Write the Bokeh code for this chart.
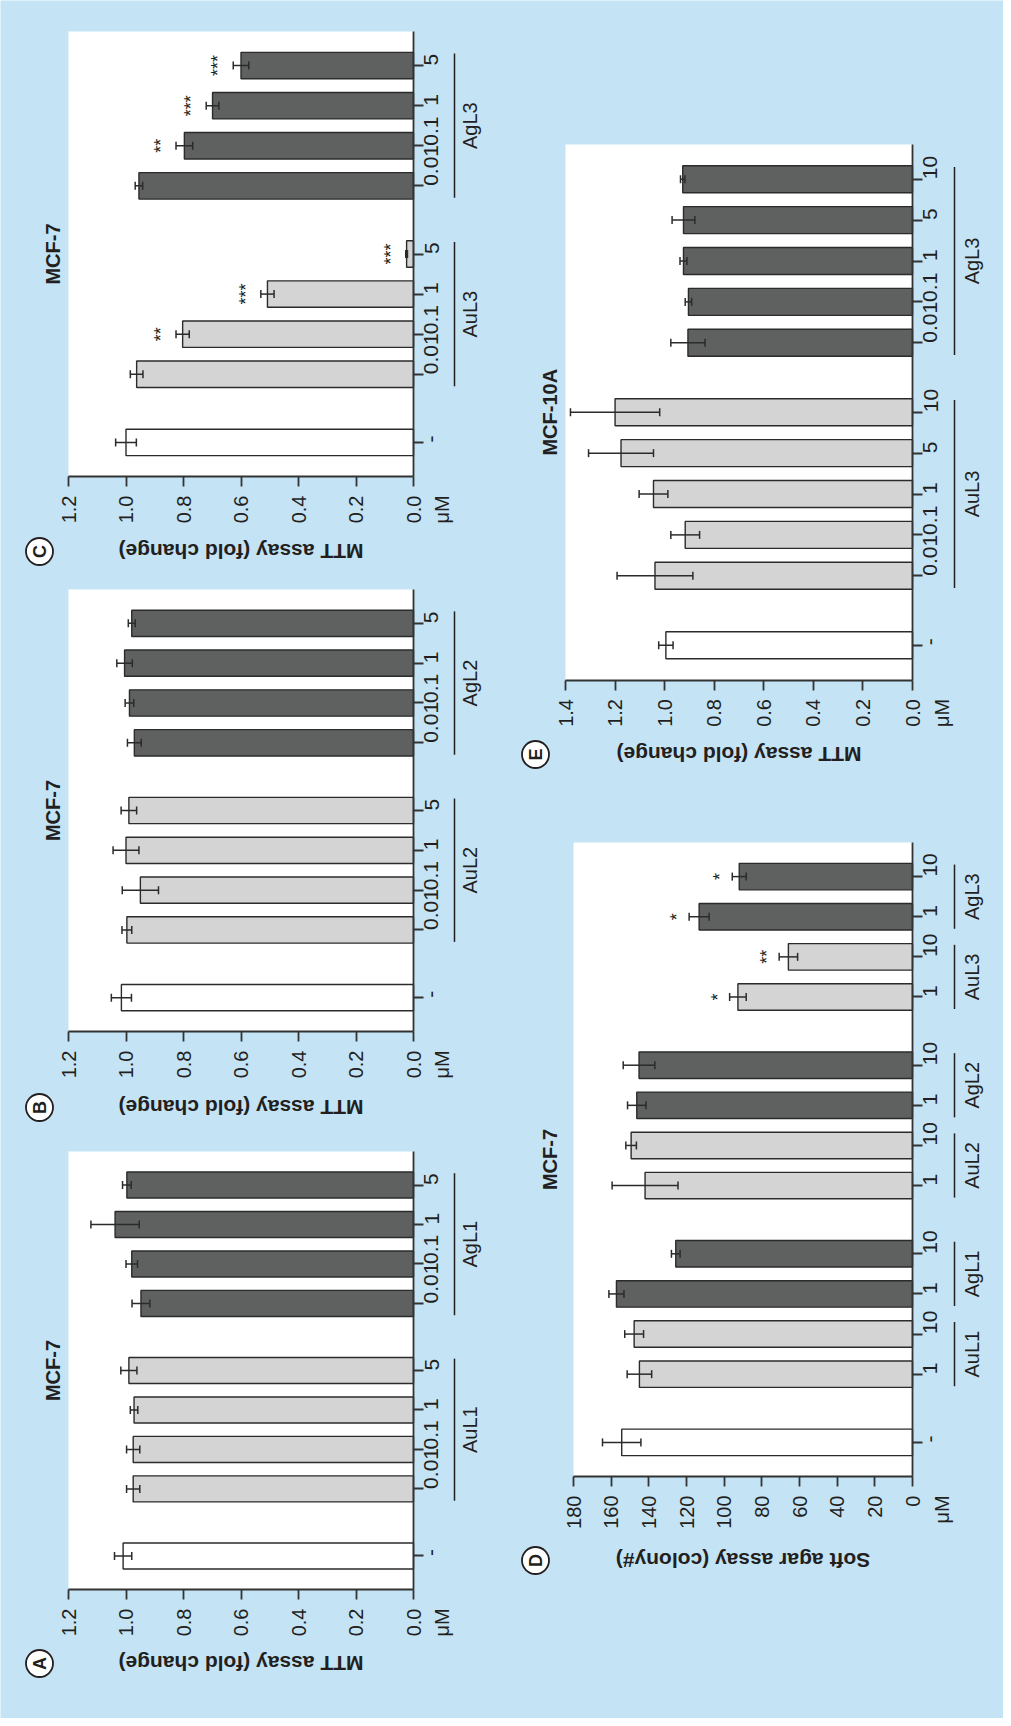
import math
from bokeh.plotting import figure
from bokeh.models import Range1d, LinearAxis, FixedTicker, PrintfTickFormatter, ColumnDataSource
from bokeh.core.properties import value
from bokeh.embed import file_html
from bokeh.resources import INLINE

# ----------------------------- data -----------------------------
MTT_TITLE = "MTT assay (fold change)"
SOFT_TITLE = "Soft agar assay (colony#)"
UNIT = "μM"
CONTROL = "-"

MTT_TICKS = [0.0, 0.2, 0.4, 0.6, 0.8, 1.0, 1.2]
E_TICKS = [0.0, 0.2, 0.4, 0.6, 0.8, 1.0, 1.2, 1.4]
D_TICKS = [0, 20, 40, 60, 80, 100, 120, 140, 160, 180]

MTT_DOSES = ["0.01", "0.1", "1", "5"]
E_DOSES = ["0.01", "0.1", "1", "5", "10"]
D_DOSES = ["1", "10"]

A_groups = [["AuL1"], ["AgL1"]]
A_mean = [1.01, 0.975, 0.975, 0.972, 0.99, 0.948, 0.98, 1.038, 0.997]
A_err = [0.03, 0.023, 0.023, 0.013, 0.028, 0.031, 0.02, 0.084, 0.015]
A_sig = ["", "", "", "", "", "", "", "", ""]

B_groups = [["AuL2"], ["AgL2"]]
B_mean = [1.016, 0.997, 0.95, 1.0, 0.99, 0.971, 0.988, 1.005, 0.98]
B_err = [0.035, 0.017, 0.063, 0.045, 0.027, 0.024, 0.015, 0.027, 0.012]
B_sig = ["", "", "", "", "", "", "", "", ""]

C_groups = [["AuL3"], ["AgL3"]]
C_mean = [1.0, 0.963, 0.803, 0.508, 0.024, 0.955, 0.797, 0.699, 0.60]
C_err = [0.036, 0.022, 0.023, 0.023, 0.003, 0.013, 0.029, 0.022, 0.027]
C_sig = ["", "", "**", "***", "***", "", "**", "***", "***"]

D_groups = [["AuL1", "AgL1"], ["AuL2", "AgL2"], ["AuL3", "AgL3"]]
D_mean = [154.4, 145.0, 147.8, 157.2, 125.7, 142.0, 149.4, 146.4, 145.2, 92.7, 65.9, 113.3, 92.0]
D_err = [10.2, 6.5, 5.0, 4.0, 2.3, 17.5, 2.8, 4.9, 8.4, 4.4, 4.9, 5.3, 3.7]
D_sig = ["", "", "", "", "", "", "", "", "", "*", "**", "*", "*"]

E_groups = [["AuL3"], ["AgL3"]]
E_mean = [0.995, 1.039, 0.917, 1.045, 1.176, 1.20, 0.906, 0.904, 0.924, 0.924, 0.927]
E_err = [0.029, 0.153, 0.058, 0.058, 0.131, 0.18, 0.069, 0.013, 0.014, 0.046, 0.009]
E_sig = ["", "", "", "", "", "", "", "", "", "", ""]

# ----------------------------- style / layout -----------------------------
W, H = 1003, 1718
MARGIN = 8
BLUE = "#c4e4f6"
INK = "#231f20"
AXIS = "#333333"
FILL_CTRL = "#ffffff"
FILL_AU = "#d4d4d4"
FILL_AG = "#5f6060"
FONT = "Liberation Sans"
GAP = 1.7
PAD = 0.85
BAR_H = 0.66
CAP_PX = 4

COLS = [
    dict(title_x=60, letter_x=47, bracket_x=462, group_x=477, unit_x=449),
    dict(title_x=557.5, letter_x=543, bracket_x=962, group_x=979, unit_x=949),
]

PANELS = [
    dict(letter="A", cell="MCF-7", groups=A_groups, doses=MTT_DOSES, mean=A_mean, err=A_err,
         sig=A_sig, ticks=MTT_TICKS, fmt="%.1f", ytitle=MTT_TITLE,
         box=(76, 421, 1159, 1597), col=0, title_gap=74, star_px=15),
    dict(letter="B", cell="MCF-7", groups=B_groups, doses=MTT_DOSES, mean=B_mean, err=B_err,
         sig=B_sig, ticks=MTT_TICKS, fmt="%.1f", ytitle=MTT_TITLE,
         box=(76, 421, 597, 1039), col=0, title_gap=76, star_px=15),
    dict(letter="C", cell="MCF-7", groups=C_groups, doses=MTT_DOSES, mean=C_mean, err=C_err,
         sig=C_sig, ticks=MTT_TICKS, fmt="%.1f", ytitle=MTT_TITLE,
         box=(76, 421, 39, 484), col=0, title_gap=75, star_px=15),
    dict(letter="D", cell="MCF-7", groups=D_groups, doses=D_DOSES, mean=D_mean, err=D_err,
         sig=D_sig, ticks=D_TICKS, fmt="%d", ytitle=SOFT_TITLE,
         box=(581, 920, 850, 1484), col=1, title_gap=84, star_px=12),
    dict(letter="E", cell="MCF-10A", groups=E_groups, doses=E_DOSES, mean=E_mean, err=E_err,
         sig=E_sig, ticks=E_TICKS, fmt="%.1f", ytitle=MTT_TITLE,
         box=(573, 920, 152, 687.5), col=1, title_gap=74.5, star_px=15),
]

p = figure(width=W, height=H, x_range=Range1d(0, 1), y_range=Range1d(0, 1),
           toolbar_location=None, output_backend="svg",
           x_axis_location=None, y_axis_location=None, min_border=0,
           background_fill_color=BLUE, border_fill_color=BLUE, outline_line_color=None)
p.grid.visible = False
if p.title is not None:
    p.title.visible = False

extra_x, extra_y = {}, {}


def txt(xn, yn, xs, ys, texts, size, angle=math.pi / 2, bold=False):
    p.text(x=xs, y=ys, text=texts, angle=angle, text_align="center", text_baseline="middle",
           text_font=value(FONT), text_font_size=value(size),
           text_font_style="bold" if bold else "normal", text_color=INK,
           x_range_name=xn, y_range_name=yn)


for idx, pn in enumerate(PANELS):
    xn, yn = f"x{idx}", f"y{idx}"
    col = COLS[pn["col"]]
    # category positions from group structure
    pos = [0.0]
    grp = []
    cur = 0.0
    for cluster in pn["groups"]:
        cur += GAP
        for gi, g in enumerate(cluster):
            if gi:
                cur += 1.0
            first = cur
            for di in range(len(pn["doses"])):
                if di:
                    cur += 1.0
                pos.append(round(cur, 4))
            grp.append((g, round(first, 4), round(cur, 4)))
    labels = [CONTROL] + [d for cl in pn["groups"] for g in cl for d in pn["doses"]]
    fills = [FILL_CTRL] + [(FILL_AU if g.startswith("Au") else FILL_AG)
                           for cl in pn["groups"] for g in cl for d in pn["doses"]]

    left, right, top, bottom = pn["box"]
    L, R, T, B = left - MARGIN, right - MARGIN, top - MARGIN, bottom - MARGIN
    vmax = pn["ticks"][-1]
    ux = vmax / (R - L)
    lo, hi = -PAD, pos[-1] + PAD
    uy = (hi - lo) / (B - T)
    extra_x[xn] = Range1d(start=vmax + L * ux, end=-(W - R) * ux)
    extra_y[yn] = Range1d(start=lo - (H - B) * uy, end=hi + T * uy)

    def X(page_x):
        return vmax - (page_x - left) * ux

    def Y(page_y):
        return lo + (bottom - page_y) * uy

    # white plotting area
    p.quad(left=[0], right=[vmax], bottom=[lo], top=[hi], fill_color="white",
           line_color=None, x_range_name=xn, y_range_name=yn)

    mean, err = pn["mean"], pn["err"]
    src = ColumnDataSource(dict(
        pos=pos, mean=mean, fill=fills,
        elo=[m - e for m, e in zip(mean, err)],
        ehi=[m + e for m, e in zip(mean, err)],
        c0=[y - CAP_PX * uy for y in pos],
        c1=[y + CAP_PX * uy for y in pos],
    ))
    p.hbar(y="pos", left=0, right="mean", height=BAR_H, fill_color="fill",
           line_color="#2b2b2b", line_width=1.4, source=src,
           x_range_name=xn, y_range_name=yn)
    for a, b, c, d in (("elo", "pos", "ehi", "pos"), ("elo", "c0", "elo", "c1"), ("ehi", "c0", "ehi", "c1")):
        p.segment(x0=a, y0=b, x1=c, y1=d, line_color="#2b2b2b", line_width=1.5,
                  source=src, x_range_name=xn, y_range_name=yn)

    # significance stars
    sx, sy, st = [], [], []
    for y, m, e, s in zip(pos, mean, err, pn["sig"]):
        if s:
            sx.append(m + e + pn["star_px"] * ux)
            sy.append(y)
            st.append(s)
    if st:
        txt(xn, yn, sx, sy, st, "18px")

    # value axis
    xa = LinearAxis(x_range_name=xn, y_range_name=yn, fixed_location=lo, bounds=(0, vmax),
                    ticker=FixedTicker(ticks=pn["ticks"]),
                    formatter=PrintfTickFormatter(format=pn["fmt"]),
                    major_label_orientation=math.pi / 2, major_tick_in=0, major_tick_out=10,
                    minor_tick_line_color=None, axis_line_color=AXIS, axis_line_width=1.8,
                    major_tick_line_color=AXIS, major_tick_line_width=1.8,
                    major_label_standoff=9, major_label_text_font=FONT,
                    major_label_text_font_size="20px", major_label_text_color=INK)
    p.add_layout(xa, "below")

    # category axis
    ya = LinearAxis(x_range_name=xn, y_range_name=yn, fixed_location=0, bounds=(lo, hi),
                    ticker=FixedTicker(ticks=pos),
                    major_label_overrides={q: l for q, l in zip(pos, labels)},
                    major_label_orientation=math.pi / 2, major_tick_in=0, major_tick_out=10,
                    minor_tick_line_color=None, axis_line_color=AXIS, axis_line_width=1.8,
                    major_tick_line_color=AXIS, major_tick_line_width=1.8,
                    major_label_standoff=8, major_label_text_font=FONT,
                    major_label_text_font_size="21px", major_label_text_color=INK)
    p.add_layout(ya, "right")

    # group brackets and labels
    bx = X(col["bracket_x"])
    p.segment(x0=[bx] * len(grp), y0=[g[1] - 0.3 for g in grp],
              x1=[bx] * len(grp), y1=[g[2] + 0.3 for g in grp],
              line_color=INK, line_width=1.5, x_range_name=xn, y_range_name=yn)
    txt(xn, yn, [X(col["group_x"])] * len(grp), [(g[1] + g[2]) / 2 for g in grp],
        [g[0] for g in grp], "20px")

    # unit label
    txt(xn, yn, [X(col["unit_x"])], [Y(bottom + 33)], [UNIT], "20px")

    # cell line title
    txt(xn, yn, [X(col["title_x"])], [(lo + hi) / 2], [pn["cell"]], "20px", bold=True)

    # axis title (upside down)
    ty = Y(bottom + pn["title_gap"])
    txt(xn, yn, [vmax / 2], [ty], [pn["ytitle"]], "21px", angle=math.pi, bold=True)

    # panel letter
    lx = X(col["letter_x"])
    p.scatter(x=[lx], y=[ty], marker="circle", size=27, fill_color="white",
              line_color=INK, line_width=1.8, x_range_name=xn, y_range_name=yn)
    txt(xn, yn, [lx], [ty], [pn["letter"]], "18px", bold=True)

p.extra_x_ranges = extra_x
p.extra_y_ranges = extra_y

open("out.html", "w").write(file_html(p, INLINE))
